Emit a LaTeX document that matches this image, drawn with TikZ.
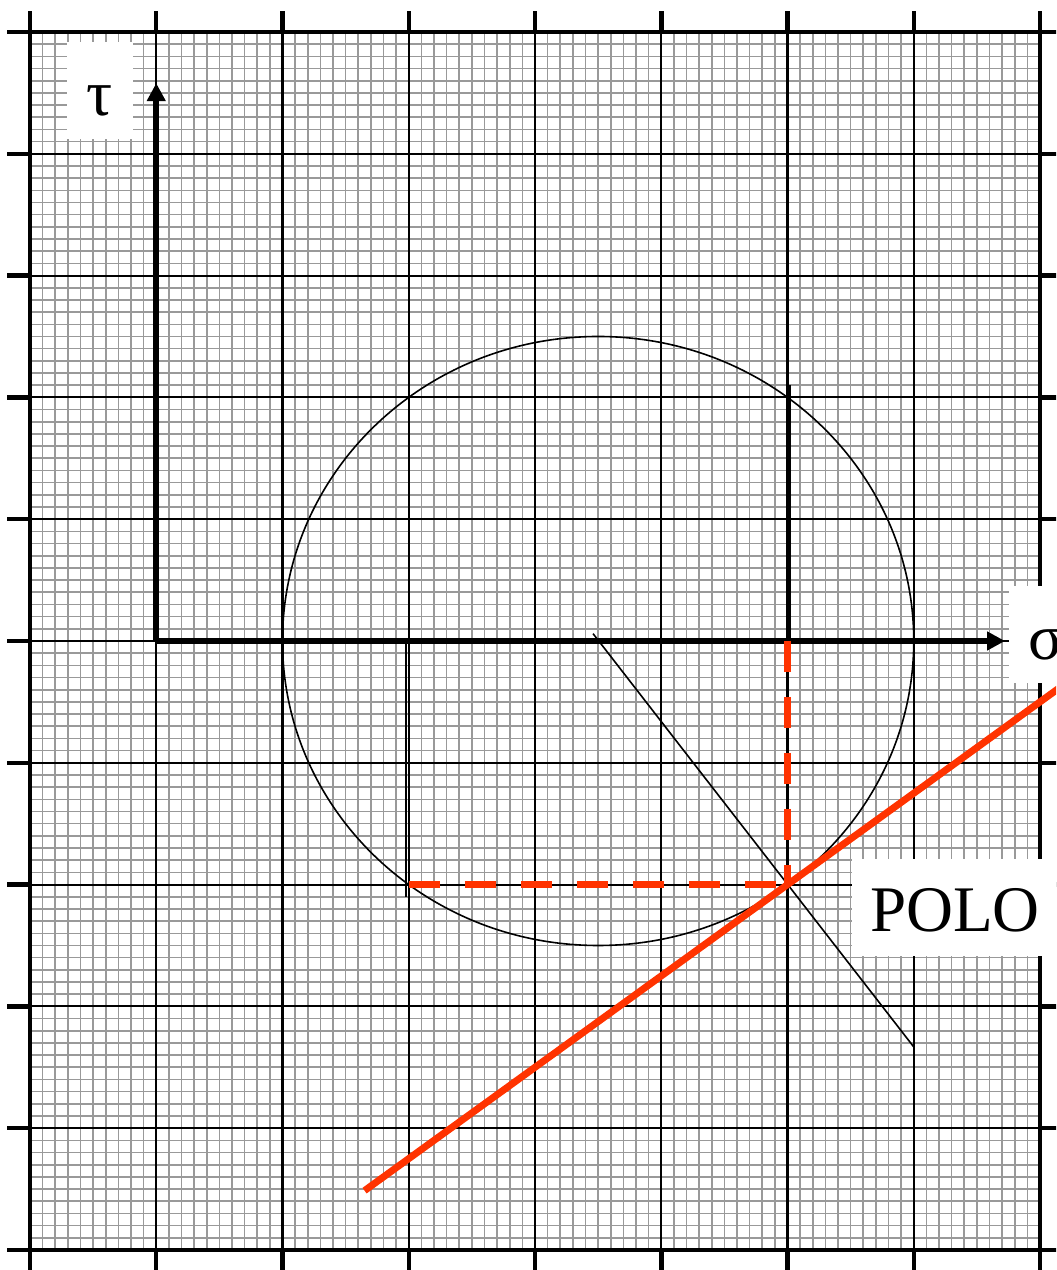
\documentclass[tikz,border=0pt]{standalone}
\usepackage{fontspec}
\setmainfont{Liberation Serif}
\usetikzlibrary{arrows.meta}
\definecolor{polored}{RGB}{255,51,0}

\begin{document}
\begin{tikzpicture}[
    line join=round,
    % 网格单位：一大格
    x={(1.2625cm,0cm)},
    y={(0cm,1.218cm)},
    minorline/.style={black!40, line width=0.016cm},
    majorline/.style={black, line width=0.021cm},
    frameline/.style={black, line width=0.045cm},
    axisline/.style={black, line width=0.055cm, -{Triangle[length=0.18cm, width=0.18cm]}},
    thinline/.style={black, line width=0.016cm},
    redline/.style={polored, line width=0.07cm},
    reddash/.style={polored, line width=0.068cm, dash pattern=on 0.31cm off 0.25cm},
    lbl/.style={fill=white, inner sep=0pt, minimum height=0.97cm,
        text height=14pt, text depth=0pt, font=\fontsize{18.5pt}{22pt}\selectfont},
]

% 画布范围
\useasboundingbox (-0.2376,-0.1642) rectangle (8.1267,10.2627);
\clip (-0.2376,-0.1642) rectangle (8.1267,10.2627);

% 圆参数
\def\R{2.5}   % 半径

% 原点、圆心与极点
\coordinate (O) at (1,5);
\coordinate (C) at (4.5,5);
\coordinate (P) at (6,3);
\coordinate (A) at (3,3);

% ---- 坐标纸：细格 ----
\foreach \i in {0,...,80}
    \draw[minorline] ({\i/10},0) -- ({\i/10},10);
\foreach \j in {0,...,100}
    \draw[minorline] (0,{\j/10}) -- (8,{\j/10});

% ---- 坐标纸：粗格与边框 ----
\foreach \i in {1,...,7}
    \draw[majorline] (\i,0) -- (\i,10);
\foreach \j in {1,...,9}
    \draw[majorline] (0,\j) -- (8,\j);
\draw[frameline] (0,0) rectangle (8,10);

% 边框外的刻度
\foreach \i in {0,...,8} {
    \draw[frameline] (\i,10) -- (\i,10.17);
    \draw[frameline] (\i,0) -- (\i,-0.17);
}
\foreach \j in {0,...,10} {
    \draw[frameline] (0,\j) -- (-0.18,\j);
    \draw[frameline] (8,\j) -- (8.18,\j);
}

% ---- 应力圆 ----
\draw[thinline] (C) circle (\R);

% 两个面上的应力
\coordinate (B1) at (6.02,7.1);
\coordinate (B2) at (6.02,5);
\coordinate (D1) at (2.98,5);
\coordinate (D2) at (2.98,2.9);
\draw[thinline] (B1) -- (B2);
\draw[thinline] (D1) -- (D2);

% 过圆心的直线
\coordinate (E1) at (4.46,5.06);
\coordinate (E2) at (7,1.667);
\draw[thinline] (E1) -- (E2);

% ---- 坐标轴 ----
\coordinate (Ytip) at (1,9.58);
\coordinate (Xtip) at (7.723,5);
\draw[axisline] (O) -- (Ytip);
\draw[axisline] (O) -- (Xtip);

% ---- 极点作图（红色） ----
\draw[reddash] (6,5) -- (P);
\draw[reddash] (A) -- (P);

\coordinate (R1) at (2.65,0.4875);
\coordinate (R2) at (8.4,4.8);
\draw[redline] (R1) -- (P) -- (R2);

% 标签
\node[lbl, minimum width=0.66cm] (tau) at (0.554,9.516) {τ};
\node[lbl, minimum width=0.74cm] (sigma) at (8.05,5.053) {σ};
\node[lbl, minimum width=2.06cm] (polo) at (7.327,2.816) {POLO};

\end{tikzpicture}
\end{document}
